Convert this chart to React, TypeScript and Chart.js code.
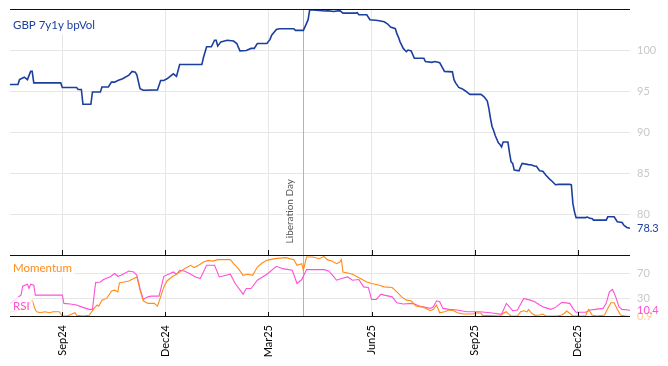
import React, { useEffect, useRef } from 'react';
import { Chart, registerables } from 'chart.js';

Chart.register(...registerables);

// ---- x axis: trading-day index ----
const xMax = 391;
const tickIdx = [33, 98, 163, 228, 293, 358];
const tickLabels = ['Sep24', 'Dec24', 'Mar25', 'Jun25', 'Sep25', 'Dec25'];
const eventIdx = 185;
const eventLabel = 'Liberation Day';

// ---- GBP 7y1y bpVol ----
const volIdx = [
  0, 5, 6, 9, 11, 13, 14, 15, 32, 33,
  42, 43, 45, 46, 51, 52, 57, 58, 62, 64,
  66, 68, 71, 75, 77, 79, 80, 82, 84, 93,
  95, 97, 99, 101, 103, 105, 107, 121, 122, 124,
  127, 129, 130, 131, 133, 137, 141, 143, 145, 149,
  152, 154, 156, 162, 164, 165, 168, 170, 179, 180,
  185, 187, 188, 189, 199, 200, 204, 208, 210, 218,
  219, 220, 225, 227, 232, 236, 238, 240, 243, 244,
  245, 246, 247, 248, 250, 251, 253, 255, 261, 262,
  266, 268, 271, 272, 274, 279, 280, 281, 283, 285,
  287, 290, 297, 299, 301, 302, 303, 304, 305, 306,
  308, 309, 310, 311, 314, 315, 316, 317, 318, 321,
  322, 323, 327, 329, 331, 332, 334, 336, 338, 340,
  342, 344, 346, 353, 354, 355, 356, 357, 363, 364,
  366, 367, 368, 376, 377, 381, 383, 386, 387, 389,
  391,
];
const volVal = [
  95.8, 95.8, 96.4, 96.7, 96.4, 97.4, 97.4, 96.0, 96.0, 95.45,
  95.45, 95.2, 95.2, 93.4, 93.4, 94.9, 94.9, 95.5, 95.5, 96.1,
  96.1, 96.3, 96.5, 96.95, 97.4, 97.3, 97.0, 95.3, 95.1, 95.15,
  96.3, 96.3, 96.5, 96.8, 97.1, 96.8, 98.25, 98.25, 99.1, 100.4,
  100.4, 101.2, 101.2, 100.5, 101.0, 101.2, 101.1, 100.8, 99.9, 99.95,
  100.2, 100.2, 100.8, 100.8, 101.3, 101.8, 102.5, 102.6, 102.6, 102.4,
  102.4, 103.25, 103.7, 104.9, 104.75, 104.8, 104.7, 104.8, 104.5, 104.5,
  104.55, 104.3, 104.3, 103.7, 103.6, 103.45, 103.2, 102.8, 102.6, 102.0,
  101.55, 101.0, 100.6, 100.2, 99.8, 100.0, 99.9, 99.0, 99.0, 98.6,
  98.5, 98.6, 98.45, 98.1, 97.4, 97.35, 96.4, 96.0, 95.45, 95.3,
  95.05, 94.6, 94.6, 94.3, 93.8, 92.9, 91.7, 90.7, 90.2, 89.6,
  88.7, 88.5, 88.2, 88.8, 88.8, 87.5, 86.4, 86.2, 85.4, 85.3,
  85.8, 86.2, 86.05, 86.0, 85.85, 85.85, 85.3, 85.25, 84.75, 84.35,
  84.0, 83.6, 83.65, 83.65, 83.6, 81.3, 80.3, 79.6, 79.6, 79.67,
  79.5, 79.5, 79.3, 79.3, 79.7, 79.7, 79.1, 79.0, 78.7, 78.4,
  78.3,
];
const volTicks = [80, 85, 90, 95, 100];

// ---- RSI ----
const rsiIdx = [
  0, 7, 8, 11, 12, 13, 15, 16, 33, 34,
  38, 42, 46, 50, 52, 54, 57, 59, 63, 66,
  68, 70, 75, 78, 80, 82, 84, 87, 89, 94,
  97, 101, 103, 105, 107, 110, 114, 117, 120, 124,
  129, 132, 139, 142, 147, 149, 152, 156, 162, 168,
  172, 178, 181, 184, 187, 198, 201, 204, 206, 209,
  213, 216, 220, 223, 226, 228, 231, 234, 236, 241,
  244, 248, 254, 258, 265, 267, 269, 271, 273, 277,
  282, 288, 296, 303, 310, 313, 315, 317, 320, 324,
  328, 331, 334, 337, 341, 344, 348, 353, 355, 357,
  363, 366, 369, 374, 376, 378, 380, 382, 384, 386,
  390, 391,
];
const rsiVal = [
  22, 36, 50, 53.2, 46.3, 53.2, 51.6, 35.5, 35.5, 22.1,
  21, 19.4, 15.6, 12.4, 12.4, 56, 56.9, 60.8, 65, 70.5,
  66.1, 67.7, 74.7, 73.1, 67.7, 46.3, 28.5, 32.7, 33.9, 33.9,
  66.1, 70.5, 73.1, 69.4, 75.8, 74.7, 69.4, 65, 62.4, 83.9,
  83.9, 65, 69.4, 54.4, 37.1, 46.3, 46.3, 59.7, 69.4, 82.3,
  78.5, 75.8, 54.4, 60.8, 76.9, 76.9, 74.7, 66.1, 59.7, 62.4,
  65, 59.7, 60.8, 48.9, 47.9, 28.5, 28.5, 37.1, 35.5, 32.7,
  23.1, 21, 22.1, 17.7, 14, 16.6, 26.3, 24.7, 14, 12.4,
  11.3, 8.5, 8.5, 6.9, 4.4, 22.1, 16.6, 10.2, 11.3, 30.2,
  27.4, 24.7, 19.4, 15.6, 12.4, 15.6, 23.7, 22.1, 14, 7.6,
  7.6, 11.3, 12.4, 14, 22.1, 40.8, 44.7, 32.7, 16.6, 12.4,
  11.3, 10.4,
];

// ---- Momentum ----
const momIdx = [
  0, 6, 11, 14, 16, 17, 19, 22, 25, 27,
  31, 33, 36, 39, 41, 42, 46, 50, 53, 55,
  56, 58, 61, 63, 64, 66, 68, 69, 72, 75,
  78, 80, 82, 84, 87, 91, 93, 95, 97, 99,
  102, 104, 107, 110, 114, 116, 119, 122, 125, 128,
  131, 139, 141, 144, 147, 150, 153, 156, 159, 162,
  167, 174, 179, 181, 184, 185, 187, 191, 195, 198,
  200, 203, 206, 208, 209, 210, 213, 216, 221, 225,
  228, 233, 236, 241, 244, 247, 250, 253, 256, 261,
  265, 267, 269, 271, 274, 277, 280, 282, 286, 292,
  295, 297, 298, 309, 311, 313, 314, 316, 320, 322,
  324, 326, 327, 329, 331, 334, 336, 338, 345, 348,
  350, 351, 353, 355, 363, 364, 365, 367, 370, 375,
  377, 379, 381, 383, 385, 388, 391,
];
const momVal = [
  8.1, 11.3, 17.7, 27.4, 11.3, 8.5, 6.9, 8.5, 6.9, 8.5,
  8.5, 1.6, 1.6, 4.8, 6.9, 2.7, 1.6, 2.7, 14, 19.4,
  17.7, 27.4, 30.2, 38.2, 42.4, 43.5, 40.8, 55.3, 56.9, 58.5,
  62.4, 65, 43.5, 26.3, 22.1, 22.1, 17.7, 32.7, 48.9, 58.5,
  65, 67.7, 73.1, 78.5, 83.9, 80.2, 83.9, 89.2, 91.9, 90.8,
  93.1, 93.1, 86.6, 78.5, 67.7, 69.4, 67.7, 81.1, 87.6, 91.9,
  94.7, 96.3, 93.1, 83.9, 86.6, 75.8, 97.3, 97.3, 94.7, 98.4,
  93.1, 90.8, 86.6, 89.2, 93.1, 73.1, 71.5, 69.4, 62.4, 56.9,
  54.4, 51.6, 48.9, 47.9, 40.8, 32.7, 27.4, 26.3, 17.7, 15.6,
  10.2, 12.4, 19.4, 6.9, 8.5, 11.3, 10.2, 6.9, 4.8, 4.8,
  6.9, 6, 2.7, 1.6, 6, 8.5, 6, 1.6, 1.6, 8.5,
  10.2, 8.5, 12.4, 6, 2.7, 3.2, 4.8, 1.6, 1.6, 3.2,
  6.9, 9.7, 6, 1.6, 1.6, 8.5, 12.4, 3.2, 1.6, 3.2,
  14, 23.1, 23.1, 12.4, 3.2, 1.6, 0.9,
];
const oscTicks = [30, 70];

// ---- styles ----
const FONT = 'Lato';
const BLUE = '#1c3f9f';
const PINK = '#ff50d8';
const ORANGE = '#ff8c1a';
const GRID = '#e6e6e6';
const TICK_GREY = '#c8c8c8';
const EVENT_LINE = '#b4b4b4';

const toXY = (xs: number[], ys: number[]) => xs.map((x, i) => ({ x, y: ys[i] }));

function boxedLabel(ctx: CanvasRenderingContext2D, text: string, x: number, y: number, color: string, top: number, bottom: number, left: number) {
  const w = ctx.measureText(text).width;
  ctx.fillStyle = 'rgba(255,255,255,0.78)';
  ctx.fillRect(left, top, x - left + w + 3, bottom - top);
  ctx.fillStyle = color;
  ctx.fillText(text, x, y);
}

const overlayPlugin = {
  id: 'overlay',
  beforeDatasetsDraw(chart: any) {
    const { ctx, chartArea, scales } = chart;
    const ex = Math.round(scales.x.getPixelForValue(eventIdx)) + 0.5;
    ctx.save();
    ctx.strokeStyle = EVENT_LINE;
    ctx.lineWidth = 1;
    ctx.beginPath();
    ctx.moveTo(ex, chartArea.top);
    ctx.lineTo(ex, chartArea.bottom);
    ctx.stroke();
    ctx.restore();
  },
  afterDatasetsDraw(chart: any) {
    const { ctx, chartArea, scales } = chart;
    const y = scales.y;
    const y2 = scales.y2;
    const L = chartArea.left;
    const R = chartArea.right;
    ctx.save();
    ctx.textBaseline = 'middle';
    ctx.textAlign = 'left';
    ctx.font = `11.5px ${FONT}`;
    boxedLabel(ctx, 'GBP 7y1y bpVol', L + 3, y.top + 16, BLUE, y.top, y.top + 26, L);
    boxedLabel(ctx, 'Momentum', L + 3, y2.top + 12.5, ORANGE, y2.top, y2.top + 22, L);
    boxedLabel(ctx, 'RSI', L + 3, y2.bottom - 10.5, PINK, y2.bottom - 20, y2.bottom, L);

    // event text
    const ex = scales.x.getPixelForValue(eventIdx);
    ctx.font = `10px ${FONT}`;
    const tw = ctx.measureText(eventLabel).width;
    const tb = y.bottom - 12;
    ctx.fillStyle = 'rgba(255,255,255,0.85)';
    ctx.fillRect(ex - 20.5, tb - tw - 3, 14, tw + 6);
    ctx.translate(ex - 13.5, tb);
    ctx.rotate(-Math.PI / 2);
    ctx.fillStyle = '#555555';
    ctx.fillText(eventLabel, 0, 0);
    ctx.setTransform(1, 0, 0, 1, 0, 0);

    // border lines
    ctx.strokeStyle = '#111111';
    ctx.lineWidth = 1;
    ctx.beginPath();
    for (const yy of [Math.round(y.top) + 0.5, Math.round(y.bottom) + 0.5, Math.round(y2.bottom) - 0.5]) {
      ctx.moveTo(L, yy);
      ctx.lineTo(R, yy);
    }
    // inward ticks
    for (const t of tickIdx) {
      const px = Math.round(scales.x.getPixelForValue(t)) + 0.5;
      ctx.moveTo(px, Math.round(y.bottom));
      ctx.lineTo(px, Math.round(y.bottom) - 5);
      ctx.moveTo(px, Math.round(y2.bottom));
      ctx.lineTo(px, Math.round(y2.bottom) - 5);
    }
    ctx.stroke();

    // last-value labels
    ctx.font = `11px ${FONT}`;
    const lx = R + 7;
    ctx.fillStyle = BLUE;
    ctx.fillText(String(volVal[volVal.length - 1]), lx, y.getPixelForValue(volVal[volVal.length - 1]));
    ctx.globalAlpha = 0.45;
    ctx.fillStyle = ORANGE;
    ctx.fillText(String(momVal[momVal.length - 1]), lx, y2.getPixelForValue(momVal[momVal.length - 1]));
    ctx.globalAlpha = 1;
    ctx.fillStyle = PINK;
    ctx.fillText(String(rsiVal[rsiVal.length - 1]), lx, y2.getPixelForValue(rsiVal[rsiVal.length - 1]));
    ctx.restore();
  },
};

const noPad = (s: any) => {
  s.paddingTop = 0;
  s.paddingBottom = 0;
};

export default function App() {
  const ref = useRef<HTMLCanvasElement>(null);
  useEffect(() => {
    document.body.style.margin = '0';
    Chart.defaults.font.family = FONT;
    const chart = new Chart(ref.current as HTMLCanvasElement, {
      type: 'line',
      data: {
        datasets: [
          { label: 'GBP 7y1y bpVol', data: toXY(volIdx, volVal), yAxisID: 'y', borderColor: BLUE, borderWidth: 1.6, pointRadius: 0, tension: 0 },
          { label: 'Momentum', data: toXY(momIdx, momVal), yAxisID: 'y2', borderColor: ORANGE, borderWidth: 1.1, pointRadius: 0, tension: 0 },
          { label: 'RSI', data: toXY(rsiIdx, rsiVal), yAxisID: 'y2', borderColor: PINK, borderWidth: 1.1, pointRadius: 0, tension: 0 },
        ],
      },
      options: {
        animation: false,
        responsive: false,
        devicePixelRatio: 1,
        layout: { padding: { left: 10, top: 9, right: 0, bottom: 0 } },
        plugins: { legend: { display: false }, tooltip: { enabled: false } },
        scales: {
          x: {
            type: 'linear',
            min: 0,
            max: xMax,
            grid: { color: GRID, drawTicks: false },
            border: { display: false },
            afterBuildTicks: (s: any) => { s.ticks = tickIdx.map((v) => ({ value: v })); },
            afterFit: (s: any) => { s.height = 49; s.paddingLeft = 0; s.paddingRight = 0; },
            ticks: {
              autoSkip: false,
              maxRotation: 90,
              minRotation: 90,
              padding: 8,
              color: '#000000',
              font: { family: FONT, size: 11 },
              callback: (v: any) => { const i = tickIdx.indexOf(Number(v)); return i >= 0 ? tickLabels[i] : ''; },
            },
          },
          y: {
            type: 'linear',
            position: 'right',
            stack: 'panels',
            stackWeight: 4,
            min: 75,
            max: 105,
            grid: { color: GRID, drawTicks: false },
            border: { display: false },
            afterBuildTicks: (s: any) => { s.ticks = volTicks.map((v) => ({ value: v })); },
            afterFit: (s: any) => { s.width = 38; noPad(s); },
            ticks: { color: TICK_GREY, padding: 7, font: { family: FONT, size: 11 } },
          },
          y2: {
            type: 'linear',
            position: 'right',
            stack: 'panels',
            stackWeight: 1,
            min: 0,
            max: 100,
            grid: { color: GRID, drawTicks: false },
            border: { display: false },
            afterBuildTicks: (s: any) => { s.ticks = oscTicks.map((v) => ({ value: v })); },
            afterFit: (s: any) => { s.width = 38; noPad(s); },
            ticks: { color: TICK_GREY, padding: 7, font: { family: FONT, size: 11 } },
          },
        },
      },
      plugins: [overlayPlugin],
    } as any);
    return () => chart.destroy();
  }, []);
  return (
    <div style={{ width: 668, height: 366 }}>
      <canvas ref={ref} width={668} height={366} style={{ display: 'block' }} />
    </div>
  );
}
